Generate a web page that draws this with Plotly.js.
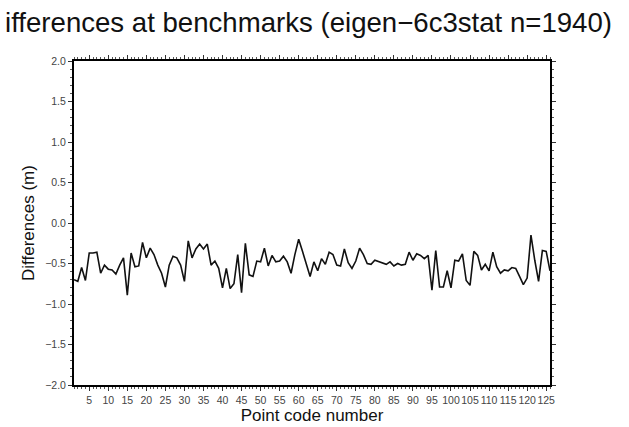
<!DOCTYPE html>
<html>
<head>
<meta charset="utf-8">
<script src="https://cdn.plot.ly/plotly-3.0.1.min.js"></script>
<style>
html,body{margin:0;padding:0;background:#fff;}
#chart{width:629px;height:427px;}
</style>
</head>
<body>
<div id="chart"></div>
<script>
// Point code numbers 1..126
const pointCodes = [
  1,2,3,4,5,6,7,8,9,10,11,12,13,14,15,16,17,18,19,20,
  21,22,23,24,25,26,27,28,29,30,31,32,33,34,35,36,37,38,39,40,
  41,42,43,44,45,46,47,48,49,50,51,52,53,54,55,56,57,58,59,60,
  61,62,63,64,65,66,67,68,69,70,71,72,73,74,75,76,77,78,79,80,
  81,82,83,84,85,86,87,88,89,90,91,92,93,94,95,96,97,98,99,100,
  101,102,103,104,105,106,107,108,109,110,111,112,113,114,115,116,117,118,119,120,
  121,122,123,124,125,126
];
// Differences (m)
const differences = [
  -0.70,-0.72,-0.55,-0.71,-0.37,-0.37,-0.36,-0.62,-0.52,-0.57,
  -0.58,-0.63,-0.52,-0.43,-0.89,-0.37,-0.54,-0.53,-0.24,-0.43,
  -0.31,-0.39,-0.52,-0.62,-0.79,-0.52,-0.41,-0.43,-0.52,-0.72,
  -0.22,-0.43,-0.32,-0.26,-0.32,-0.26,-0.52,-0.47,-0.56,-0.80,
  -0.56,-0.81,-0.75,-0.39,-0.86,-0.25,-0.64,-0.66,-0.47,-0.48,
  -0.31,-0.53,-0.40,-0.48,-0.47,-0.41,-0.48,-0.62,-0.39,-0.20,
  -0.35,-0.50,-0.66,-0.48,-0.59,-0.44,-0.51,-0.36,-0.39,-0.52,
  -0.53,-0.32,-0.49,-0.56,-0.47,-0.31,-0.39,-0.50,-0.51,-0.46,
  -0.48,-0.49,-0.51,-0.48,-0.53,-0.50,-0.52,-0.51,-0.36,-0.46,
  -0.38,-0.40,-0.44,-0.40,-0.83,-0.34,-0.79,-0.79,-0.59,-0.80,
  -0.46,-0.47,-0.38,-0.71,-0.77,-0.35,-0.40,-0.58,-0.51,-0.59,
  -0.36,-0.54,-0.62,-0.58,-0.59,-0.55,-0.56,-0.66,-0.76,-0.68,
  -0.15,-0.46,-0.72,-0.34,-0.35,-0.59
];
const xTickVals = [5,10,15,20,25,30,35,40,45,50,55,60,65,70,75,80,85,90,95,100,105,110,115,120,125];
const yTickVals = [-2.0,-1.5,-1.0,-0.5,0.0,0.5,1.0,1.5,2.0];
const yTickText = ['\u22122.0','\u22121.5','\u22121.0','\u22120.5','0.0','0.5','1.0','1.5','2.0'];
const titleText = 'ifferences at benchmarks (eigen\u22126c3stat n=1940)';

const font = 'Liberation Sans, Arial, Helvetica, sans-serif';

const trace = {
  x: pointCodes,
  y: differences,
  type: 'scatter',
  mode: 'lines',
  line: {color: '#111', width: 1.6},
  hoverinfo: 'skip'
};

const axisCommon = {
  showgrid: false,
  zeroline: false,
  showline: true,
  linecolor: '#000',
  linewidth: 2,
  mirror: 'ticks',
  ticks: 'outside',
  ticklen: 4,
  tickwidth: 1,
  tickcolor: '#333',
  tickangle: 0,
  tickfont: {family: font, size: 10.5, color: '#444'}
};

const layout = {
  width: 629,
  height: 427,
  margin: {l: 74, r: 79, t: 61, b: 42},
  paper_bgcolor: '#fff',
  plot_bgcolor: '#fff',
  showlegend: false,
  title: {
    text: titleText,
    font: {family: font, size: 27.6, color: '#111'},
    x: 0.008, xanchor: 'left', xref: 'container',
    y: 0.948, yanchor: 'middle', yref: 'container'
  },
  xaxis: Object.assign({}, axisCommon, {
    range: [1, 126],
    tickmode: 'array',
    tickvals: xTickVals,
    ticktext: xTickVals.map(String),
    minor: {dtick: 1, ticklen: 2, tickcolor: '#555', ticks: 'outside', showgrid: false},
    title: {text: 'Point code number', font: {family: font, size: 17, color: '#111'}, standoff: 3}
  }),
  yaxis: Object.assign({}, axisCommon, {
    range: [-2.0, 2.0],
    tickmode: 'array',
    tickvals: yTickVals,
    ticktext: yTickText,
    minor: {dtick: 0.1, ticklen: 2, tickcolor: '#555', ticks: 'outside', showgrid: false},
    title: {text: 'Differences (m)', font: {family: font, size: 17, color: '#111'}, standoff: 6}
  })
};

Plotly.newPlot('chart', [trace], layout, {displayModeBar: false, staticPlot: true});
</script>
</body>
</html>
